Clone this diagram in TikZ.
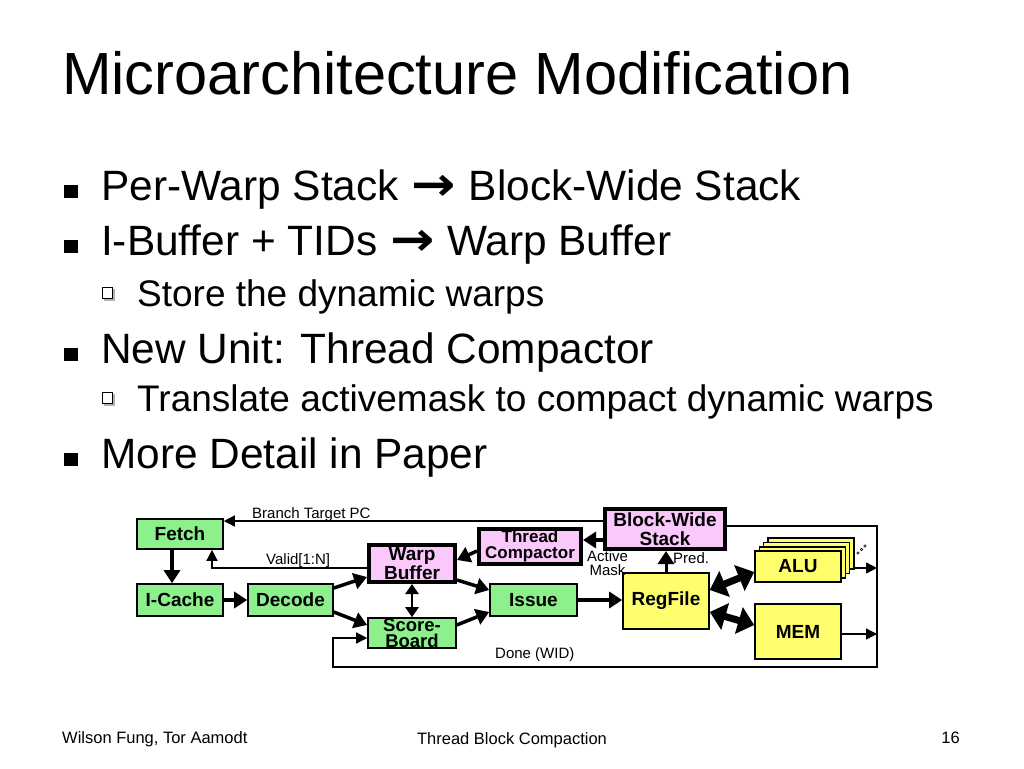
\documentclass[tikz,border=0pt]{standalone}
\usepackage{fontspec}
\setmainfont{Liberation Sans}
\newfontfamily\dejavu{DejaVu Sans}
\usetikzlibrary{arrows.meta}
\definecolor{boxgreen}{RGB}{140,240,140}
\definecolor{boxpink}{RGB}{250,200,250}
\definecolor{boxyellow}{RGB}{255,255,110}
\tikzset{
  gbox/.style={draw=black, line width=1.6pt, fill=boxgreen, inner sep=0pt, align=center,
     font=\fontsize{19}{16}\selectfont\bfseries},
  pbox/.style={draw=black, line width=4pt, fill=boxpink, inner sep=0pt, align=center,
     font=\fontsize{19}{17}\selectfont\bfseries},
  ybox/.style={draw=black, line width=1.6pt, fill=boxyellow, inner sep=0pt, align=center,
     font=\fontsize{19}{17}\selectfont\bfseries},
  wire/.style={line width=1.4pt},
  wirearr/.style={line width=1.4pt, -{Triangle[length=11pt,width=11pt]}},
  fatarr/.style={line width=3.5pt, -{Triangle[length=13pt,width=16pt]}},
  midarr/.style={line width=2.8pt, {Triangle[length=10pt,width=13pt]}-{Triangle[length=10pt,width=13pt]}},
  hugearr/.style={line width=7pt, {Triangle[length=16pt,width=27pt]}-{Triangle[length=16pt,width=27pt]}},
  lbl/.style={inner sep=0pt, font=\fontsize{15}{12}\selectfont},
  lvlone/.style={inner sep=0pt, anchor=base west, font=\fontsize{42.4}{48}\selectfont},
  lvltwo/.style={inner sep=0pt, anchor=base west, font=\fontsize{37}{42}\selectfont},
  foot/.style={inner sep=0pt, font=\fontsize{16.5}{19}\selectfont},
}
\newcommand{\warr}{{\dejavu\bfseries\kern1pt\scalebox{1.25}[1.1]{→}\kern1pt}}
\begin{document}
\begin{tikzpicture}[x=1pt,y=-1pt]
\useasboundingbox (0,0) rectangle (1024,768);
\fill[white] (0,0) rectangle (1024,768);

% title
\node[inner sep=0pt, anchor=base west, font=\fontsize{59.5}{66}\selectfont] (title) at (62,94) {Microarchitecture Modification};

% bullets
\fill (64,185) rectangle (78,198);
\node[lvlone] (b1) at (101,200) {Per-Warp Stack \warr{} Block-Wide Stack};
\fill (64,240) rectangle (78,253);
\node[lvlone] (b2) at (101,255) {I-Buffer + TIDs \warr{} Warp Buffer};
\fill[gray!60] (104,289) rectangle (114.5,300.5);
\filldraw[fill=white, draw=black, line width=0.8pt] (102,287) rectangle (112.5,298.5);
\node[lvltwo] (b3) at (137,306) {Store the dynamic warps};
\fill (64,348) rectangle (78,361);
\node[lvlone] (b4) at (101,363) {New Unit: Thread Compactor};
\fill[gray!60] (104,394) rectangle (114.5,405.5);
\filldraw[fill=white, draw=black, line width=0.8pt] (102,392) rectangle (112.5,403.5);
\node[lvltwo] (b5) at (137,411) {Translate activemask to compact dynamic warps};
\fill (64,453) rectangle (78,466);
\node[lvlone] (b6) at (101,468) {More Detail in Paper};

% boxes
\node[gbox, minimum width=86pt, minimum height=30pt] (fetch) at (180,534) {Fetch};
\node[gbox, minimum width=86pt, minimum height=32pt] (icache) at (180,600) {I-Cache};
\node[gbox, minimum width=85pt, minimum height=32pt] (decode) at (290.5,600) {Decode};
\node[pbox, minimum width=86pt, minimum height=37pt] (wb) at (412,563.5) {Warp\\Buffer};
\node[pbox, minimum width=102pt, minimum height=35pt, font=\fontsize{17}{16}\selectfont\bfseries] (tc) at (530,546.5) {Thread\\Compactor};
\node[gbox, minimum width=87pt, minimum height=32pt] (issue) at (533.5,600) {Issue};
\node[gbox, minimum width=88pt, minimum height=30pt, font=\fontsize{18.5}{16.5}\selectfont\bfseries] (sb) at (412,633) {Score-\\Board};
\node[pbox, minimum width=120pt, minimum height=40pt, font=\fontsize{19}{19}\selectfont\bfseries] (bws) at (665,529) {Block-Wide\\Stack};
\node[ybox, minimum width=86pt, minimum height=56pt] (regfile) at (666,601) {RegFile};
\node[ybox, minimum width=86pt, minimum height=31pt] (alub) at (810.9,553.6) {};
\node[ybox, minimum width=86pt, minimum height=31pt] (alua) at (806.6,557.9) {};
\node[ybox, minimum width=86pt, minimum height=31pt] (aluz) at (802.3,562.2) {};
\node[ybox, minimum width=86pt, minimum height=31pt] (alu) at (798,566.5) {ALU};
\node[ybox, minimum width=86pt, minimum height=55pt] (mem) at (798,631.5) {MEM};
\foreach \p in {(858,553),(861.5,549.5),(865,546)}
  \draw[line width=0.5pt] \p circle (1.3pt);

% frame coordinates
\coordinate (frtr) at (877,526);
\coordinate (frbr) at (877,667);
\coordinate (frbl) at (333,667);

% thin wires
\draw[wirearr] ([yshift=8pt]bws.west) -- ([yshift=8pt]bws.west -| fetch.east);
\draw[wirearr] ([yshift=-4.5pt]wb.west) -| ([xshift=32pt]fetch.south);
\draw[wirearr] ([yshift=3pt]bws.east) -- (bws.east |- frtr) -- (frtr) -- (frbr) -- (frbl) |- ([yshift=-5pt]sb.west);
\draw[wirearr] ([yshift=-1.5pt]alub.east |- alu.east) -- ([yshift=-1.5pt]alu.east -| frtr);
\draw[wirearr] ([yshift=-2.5pt]mem.east) -- ([yshift=-2.5pt]mem.east -| frtr);

% thick arrows
\draw[fatarr] ([xshift=-8pt]fetch.south) -- ([xshift=-8pt]fetch.south |- icache.north);
\draw[fatarr] (icache.east) -- (decode.west);
\draw[fatarr] ([yshift=12pt]decode.east) -- ([yshift=-13.5pt]wb.west);
\draw[fatarr] ([yshift=-12pt]decode.east) -- ([yshift=8pt]sb.west);
\draw[fatarr] ([yshift=-16.5pt]wb.east) -- ([yshift=10pt]issue.west);
\draw[fatarr] ([yshift=8pt]sb.east) -- ([yshift=-12pt]issue.west);
\draw[fatarr] ([yshift=-4.5pt]tc.west) -- ([yshift=3.5pt]wb.east);
\draw[fatarr] ([yshift=-11pt]bws.west) -- ([yshift=-11pt]bws.west -| tc.east);
\draw[fatarr] (issue.east) -- (issue.east -| regfile.west);
\draw[fatarr, line width=3pt] (regfile.north) -- (regfile.north |- bws.south);
\draw[midarr] (wb.south) -- (sb.north);
\draw[hugearr] ([yshift=11pt]regfile.east) -- ([yshift=-5.5pt]alu.west);
\draw[hugearr] ([yshift=-11pt]regfile.east) -- ([yshift=6.5pt]mem.west);

% labels
\node[lbl, anchor=base west] (lbtpc) at (252,518) {Branch Target PC};
\node[lbl, anchor=base west] (lvalid) at (266,564) {Valid[1:N]};
\node[lbl, anchor=base west] (ldone) at (495,658) {Done (WID)};
\node[lbl, anchor=base] (lact) at (607.5,561.5) {Active};
\node[lbl, anchor=base] (lmask) at (607.5,575) {Mask};
\node[lbl, anchor=base west] (lpred) at (673,563) {Pred.};

% footer
\node[foot, anchor=base west] (f1) at (62,743) {Wilson Fung, Tor Aamodt};
\node[foot, anchor=base] (f2) at (512,744) {Thread Block Compaction};
\node[foot, anchor=base east] (f3) at (960,743) {16};
\end{tikzpicture}
\end{document}
